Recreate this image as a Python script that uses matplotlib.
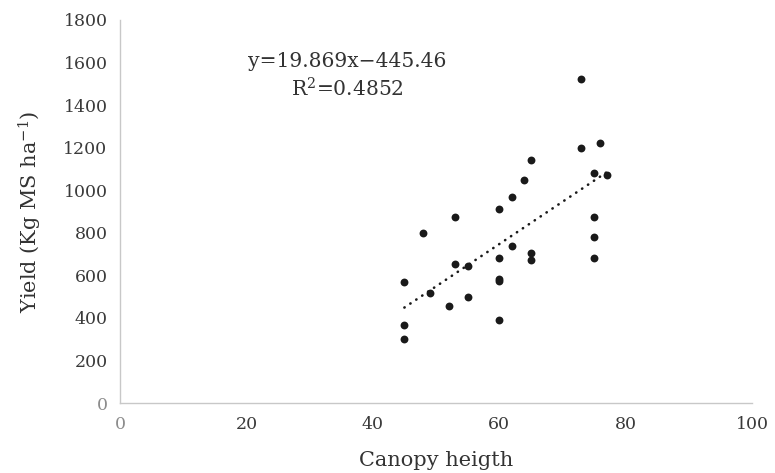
import matplotlib
matplotlib.use("Agg")
import matplotlib.pyplot as plt
import numpy as np

# Data
canopy_height = [45, 45, 45, 48, 49, 52, 53, 53, 55, 55,
                 60, 60, 60, 60, 60, 62, 62, 64, 65, 65,
                 65, 73, 73, 75, 75, 75, 75, 76, 77]
yield_kg = [570, 365, 300, 798, 515, 458, 873, 652, 643, 500,
            910, 680, 585, 575, 392, 967, 737, 1047, 1142, 703,
            670, 1525, 1198, 1080, 873, 780, 683, 1220, 1072]

slope = 19.869
intercept = -445.46
r_squared = 0.4852

x_ticks = [0, 20, 40, 60, 80, 100]
y_ticks = [0, 200, 400, 600, 800, 1000, 1200, 1400, 1600, 1800]

plt.rcParams['font.family'] = ['DejaVu Serif']
plt.rcParams['mathtext.fontset'] = 'dejavuserif'

fig = plt.figure(figsize=(7.75, 4.73), dpi=100)
ax = fig.add_axes([120/775, 1 - 403/473, (752-120)/775, (403-20)/473])

ax.scatter(canopy_height, yield_kg, s=32, color='#1a1a1a', zorder=3, linewidths=0)

xs = np.array([min(canopy_height), max(canopy_height)])
ax.plot(xs, slope * xs + intercept, color='#1a1a1a', lw=1.9,
        linestyle=(0, (0.1, 2.6)), dash_capstyle='round', zorder=2)

ax.set_xlim(0, 100)
ax.set_ylim(0, 1800)
ax.set_xticks(x_ticks)
ax.set_yticks(y_ticks)
ax.tick_params(length=0, labelsize=12.5, colors='#3a3a3a', pad=9)
for lbl in ax.get_xticklabels()[:1] + ax.get_yticklabels()[:1]:
    lbl.set_color('#8c8c8c')

for side in ['top', 'right']:
    ax.spines[side].set_visible(False)
for side in ['left', 'bottom']:
    ax.spines[side].set_color('#c8c8c8')
    ax.spines[side].set_linewidth(1.0)

ax.set_xlabel('Canopy heigth', fontsize=15, color='#333333', labelpad=13)
ax.set_ylabel('Yield (Kg MS ha$^{-1}$)', fontsize=15, color='#333333', labelpad=14)

ax.text(36.0, 1605, f'y={slope}x\u2212{abs(intercept)}', fontsize=14.6,
        ha='center', va='center', color='#333333')
ax.text(36.0, 1478, f'R$^2$={r_squared}', fontsize=14.6,
        ha='center', va='center', color='#333333')

fig.savefig('out.png', dpi=100)
